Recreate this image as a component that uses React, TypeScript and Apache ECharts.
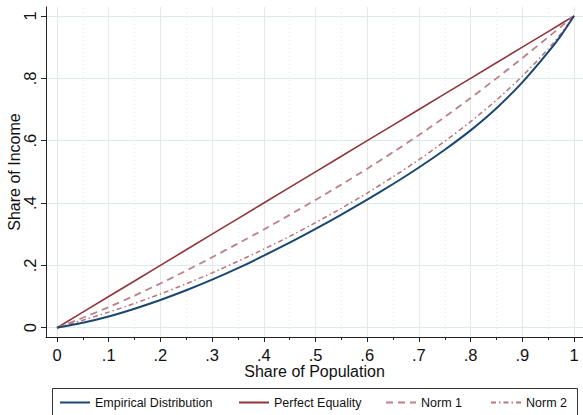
import React, { useEffect, useRef } from 'react';
import * as echarts from 'echarts';

const population = [0, 0.05, 0.1, 0.15, 0.2, 0.25, 0.3, 0.35, 0.4, 0.45, 0.5, 0.55, 0.6, 0.65, 0.7, 0.75, 0.8, 0.85, 0.9, 0.95, 0.975, 1];
const empirical = [0, 0.016, 0.036, 0.061, 0.089, 0.12, 0.154, 0.191, 0.231, 0.273, 0.317, 0.363, 0.411, 0.461, 0.514, 0.571, 0.633, 0.704, 0.787, 0.884, 0.938, 1];
const equality = [0, 0.05, 0.1, 0.15, 0.2, 0.25, 0.3, 0.35, 0.4, 0.45, 0.5, 0.55, 0.6, 0.65, 0.7, 0.75, 0.8, 0.85, 0.9, 0.95, 0.975, 1];
const norm1 = [0, 0.032, 0.066, 0.103, 0.142, 0.183, 0.226, 0.27, 0.315, 0.362, 0.41, 0.459, 0.51, 0.563, 0.618, 0.676, 0.737, 0.8, 0.865, 0.932, 0.966, 1];
const norm2 = [0, 0.024, 0.05, 0.078, 0.108, 0.141, 0.176, 0.213, 0.252, 0.293, 0.337, 0.383, 0.432, 0.484, 0.539, 0.598, 0.661, 0.73, 0.807, 0.894, 0.944, 1];

const xMajorTicks = [0, 0.1, 0.2, 0.3, 0.4, 0.5, 0.6, 0.7, 0.8, 0.9, 1];
const xMinorTicks = [0.05, 0.15, 0.25, 0.35, 0.45, 0.55, 0.65, 0.75, 0.85, 0.95];
const yMajorTicks = [0, 0.2, 0.4, 0.6, 0.8, 1];

const seriesNames = ['Empirical Distribution', 'Perfect Equality', 'Norm 1', 'Norm 2'];

const FONT = '"Liberation Sans", Arial, sans-serif';

const fmt = (v: number) => {
  if (Math.abs(v) < 1e-9) return '0';
  if (Math.abs(v - 1) < 1e-9) return '1';
  return '.' + Math.round(v * 10).toString();
};

const pairs = (ys: number[]) => population.map((x, i) => [x, ys[i]]);

export default function App() {
  const ref = useRef<HTMLDivElement>(null);
  useEffect(() => {
    if (!ref.current) return;
    const chart = echarts.init(ref.current, undefined, { renderer: 'svg' });
    const xMin = -0.02128;
    const xMax = 1.0174;
    const yMin = -0.02984;
    const yMax = 1.02887;
    const legendLefts = [59, 238, 385, 490];

    const gridLines = [
      ...xMajorTicks.map((v) => ({ xAxis: v, lineStyle: { color: '#e8e8e8', width: 1, type: 'solid' } })),
      ...xMinorTicks.map((v) => ({ xAxis: v, lineStyle: { color: '#e8e8e8', width: 1, type: [1, 3] } })),
      ...yMajorTicks.map((v) => ({ yAxis: v, lineStyle: { color: '#dde9eb', width: 1, type: 'solid' } })),
    ];

    chart.setOption({
      animation: false,
      backgroundColor: '#ffffff',
      textStyle: { fontFamily: FONT },
      grid: { left: 46, right: 0, top: 7, bottom: 78, containLabel: false, outerBoundsMode: 'none' },
      xAxis: [
        {
          type: 'value',
          min: xMin,
          max: xMax,
          position: 'bottom',
          name: 'Share of Population',
          nameLocation: 'middle',
          nameGap: 26,
          nameMoveOverlap: false,
          nameTextStyle: { fontSize: 16, color: '#111', fontFamily: FONT },
          axisLine: { show: true, onZero: false, lineStyle: { color: '#222', width: 1 } },
          axisTick: { show: true, length: 5, customValues: xMajorTicks, lineStyle: { color: '#222' } },
          axisLabel: { show: true, customValues: xMajorTicks, formatter: fmt, fontSize: 16.5, color: '#111', margin: 9, fontFamily: FONT },
          splitLine: { show: false },
          z: 3,
        },
        {
          type: 'value',
          min: xMin,
          max: xMax,
          position: 'bottom',
          axisLine: { show: false, onZero: false },
          axisTick: { show: true, length: 3, customValues: xMinorTicks, lineStyle: { color: '#222' } },
          axisLabel: { show: false },
          splitLine: { show: false },
          z: 3,
        },
      ],
      yAxis: {
        type: 'value',
        min: yMin,
        max: yMax,
        name: 'Share of Income',
        nameLocation: 'middle',
        nameGap: 24,
        nameMoveOverlap: false,
        nameTextStyle: { fontSize: 16, color: '#111', fontFamily: FONT },
        axisLine: { show: true, onZero: false, lineStyle: { color: '#222', width: 1 } },
        axisTick: { show: true, length: 5, customValues: yMajorTicks, lineStyle: { color: '#222' } },
        axisLabel: { show: true, customValues: yMajorTicks, formatter: fmt, rotate: 90, fontSize: 16.5, color: '#111', margin: 8, fontFamily: FONT },
        splitLine: { show: false },
        z: 3,
      },
      legend: seriesNames.map((n, i) => ({
        data: [n],
        left: legendLefts[i],
        top: 396,
        padding: 0,
        itemWidth: 30,
        itemHeight: 14,
        itemGap: 0,
        itemStyle: { color: 'rgba(0,0,0,0)', borderColor: 'rgba(0,0,0,0)', borderWidth: 0, opacity: 0 },
        textStyle: { fontSize: 12.5, color: '#111', fontFamily: FONT },
      })),
      graphic: [
        {
          type: 'rect',
          shape: { x: 52.5, y: 388.5, width: 525, height: 40 },
          style: { fill: 'none', stroke: '#333', lineWidth: 1 },
          silent: true,
        },
      ],
      series: [
        {
          name: 'gridlines',
          type: 'line',
          xAxisIndex: 0,
          yAxisIndex: 0,
          data: [[0, 0]],
          showSymbol: false,
          symbol: 'none',
          lineStyle: { opacity: 0 },
          silent: true,
          z: 1,
          markLine: {
            silent: true,
            z: 1,
            symbol: ['none', 'none'],
            label: { show: false },
            emphasis: { disabled: true },
            animation: false,
            data: gridLines,
          },
        },
        {
          name: seriesNames[0],
          type: 'line',
          xAxisIndex: 0,
          yAxisIndex: 0,
          data: pairs(empirical),
          showSymbol: false,
          symbol: 'none',
          smooth: 0.2,
          lineStyle: { color: '#1a476f', width: 2 },
          itemStyle: { color: '#1a476f' },
          z: 5,
        },
        {
          name: seriesNames[1],
          type: 'line',
          xAxisIndex: 0,
          yAxisIndex: 0,
          data: pairs(equality),
          showSymbol: false,
          symbol: 'none',
          lineStyle: { color: '#90353b', width: 1.6 },
          itemStyle: { color: '#90353b' },
          z: 3,
        },
        {
          name: seriesNames[2],
          type: 'line',
          xAxisIndex: 0,
          yAxisIndex: 0,
          data: pairs(norm1),
          showSymbol: false,
          symbol: 'none',
          smooth: 0.2,
          lineStyle: { color: '#bd8086', width: 1.8, type: [7, 5] },
          itemStyle: { color: '#bd8086' },
          z: 4,
        },
        {
          name: seriesNames[3],
          type: 'line',
          xAxisIndex: 0,
          yAxisIndex: 0,
          data: pairs(norm2),
          showSymbol: false,
          symbol: 'none',
          smooth: 0.2,
          lineStyle: { color: '#b8747b', width: 1.5, type: [5, 3, 1.5, 3] },
          itemStyle: { color: '#b8747b' },
          z: 4,
        },
      ],
    });
    return () => chart.dispose();
  }, []);
  return <div ref={ref} style={{ width: 583, height: 415, position: 'absolute', left: 0, top: 0 }} />;
}
